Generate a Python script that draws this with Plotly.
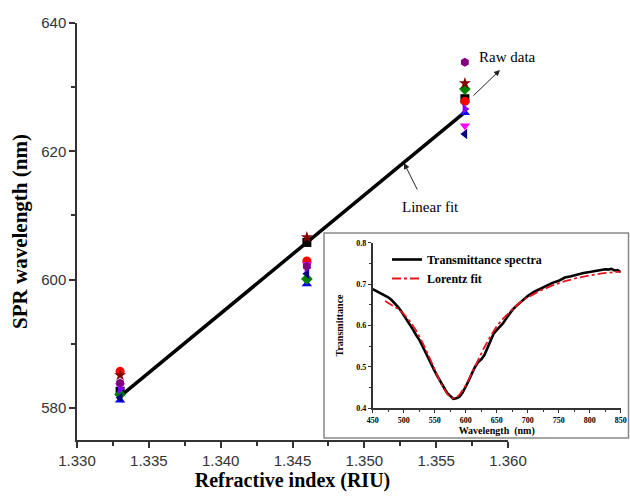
import plotly.graph_objects as go

# ---------------- main data ----------------
riu = [1.333, 1.346, 1.357]

series_names = ["S1", "S2", "S3", "S4", "S5", "S6", "S7", "S8", "S9"]
series_vals = [
    [582.6, 605.8, 628.2],   # black square
    [585.7, 602.9, 627.8],   # red circle
    [581.2, 599.3, 626.0],   # blue triangle-up
    [583.5, 602.4, 624.0],   # magenta triangle-down
    [582.1, 600.1, 629.7],   # olive diamond
    [581.6, 600.9, 622.7],   # navy triangle-left
    [583.0, 601.9, 626.6],   # violet triangle-right
    [583.9, 602.1, 633.9],   # purple hexagon
    [585.1, 606.6, 630.6],   # wine star
]
series_colors = ["#000000", "#ff0000", "#0000ff", "#ff00ff", "#008000",
                 "#000080", "#8000ff", "#800080", "#800000"]
series_symbols = ["square", "circle", "triangle-up", "triangle-down", "diamond",
                  "triangle-left", "triangle-right", "hexagon", "star"]

fit_x = [1.333, 1.357]
fit_y = [581.8, 626.1]

x_ticks = [1.330, 1.335, 1.340, 1.345, 1.350, 1.355, 1.360]
y_ticks = [580, 600, 620, 640]

# ---------------- inset data ----------------
wl = [450, 455, 460, 465, 470, 475, 480, 485, 490, 495, 500, 505, 510, 515, 520,
      525, 530, 535, 540, 545, 550, 555, 560, 565, 570, 575, 580, 585, 590, 595,
      600, 605, 610, 615, 620, 625, 630, 635, 640, 645, 650, 655, 660, 665, 670,
      675, 680, 685, 690, 695, 700, 710, 720, 730, 740, 750, 760, 770, 780, 790,
      800, 810, 820, 825, 830, 835, 840, 845, 850]
trans = [0.688, 0.684, 0.680, 0.676, 0.671, 0.668, 0.662, 0.655, 0.646, 0.637,
         0.626, 0.615, 0.603, 0.590, 0.577, 0.566, 0.551, 0.535, 0.520, 0.506,
         0.490, 0.476, 0.464, 0.449, 0.437, 0.430, 0.423, 0.424, 0.428, 0.438,
         0.452, 0.467, 0.484, 0.500, 0.511, 0.518, 0.528, 0.545, 0.563, 0.580,
         0.589, 0.597, 0.605, 0.616, 0.628, 0.637, 0.645, 0.652, 0.659, 0.665,
         0.671, 0.681, 0.689, 0.697, 0.703, 0.708, 0.716, 0.719, 0.723, 0.727,
         0.729, 0.732, 0.734, 0.736, 0.735, 0.737, 0.733, 0.734, 0.729]

fit_wl = [470, 480, 490, 500, 510, 520, 530, 540, 550, 560, 570, 575, 580, 585,
          590, 600, 610, 620, 630, 640, 650, 660, 670, 680, 690, 700, 720, 740,
          760, 780, 800, 820, 840, 850]
fit_tr = [0.659, 0.651, 0.641, 0.628, 0.610, 0.588, 0.560, 0.528, 0.493, 0.460,
          0.435, 0.427, 0.424, 0.426, 0.433, 0.455, 0.486, 0.517, 0.547, 0.574,
          0.598, 0.616, 0.632, 0.646, 0.658, 0.668, 0.684, 0.697, 0.707, 0.715,
          0.721, 0.726, 0.729, 0.730]

fig = go.Figure()

fig.add_trace(go.Scatter(x=fit_x, y=fit_y, mode="lines",
                         line=dict(color="black", width=3.5),
                         showlegend=False, xaxis="x", yaxis="y"))

for name, vals, col, sym in zip(series_names, series_vals, series_colors, series_symbols):
    fig.add_trace(go.Scatter(x=riu, y=vals, mode="markers", name=name,
                             marker=dict(color=col, symbol=sym, size=9,
                                         line=dict(width=0)),
                             showlegend=False, xaxis="x", yaxis="y"))

fig.add_trace(go.Scatter(x=wl, y=trans, mode="lines", name="Transmittance spectra",
                         line=dict(color="black", width=2.6),
                         xaxis="x2", yaxis="y2"))
fig.add_trace(go.Scatter(x=fit_wl, y=fit_tr, mode="lines", name="Lorentz fit",
                         line=dict(color="#e8141c", width=1.8, dash="dashdot"),
                         xaxis="x2", yaxis="y2"))

W, H = 630, 496
L, R, T, B = 77, 0, 23, 56
pw, ph = W - L - R, H - T - B


def px(xp):
    # page x pixel -> paper fraction
    return (xp - L) / pw


def py(yp):
    # page y pixel -> paper fraction
    return (H - B - yp) / ph


axis_line = dict(showline=True, linecolor="#333333", linewidth=1.5, showgrid=False,
                 zeroline=False, ticks="outside", tickcolor="#333333")

serif = "Liberation Serif, Times New Roman, serif"

fig.update_layout(
    width=W, height=H,
    margin=dict(l=L, r=R, t=T, b=B),
    paper_bgcolor="white", plot_bgcolor="white",
    xaxis=dict(**axis_line, range=[1.330, 1.360], domain=[0, px(508)],
               tickvals=x_ticks, tickformat=".3f", ticklen=6, tickwidth=1.5,
               minor=dict(dtick=0.0025, tick0=1.330, ticks="outside", ticklen=4,
                          tickcolor="#333333", tickwidth=1.5),
               tickfont=dict(family="Liberation Sans, Arial", size=15, color="#333333"),
               title=dict(text="Refractive index (RIU)", standoff=5,
                          font=dict(family=serif, size=20, color="black", weight="bold")),
               automargin=False, anchor="y"),
    yaxis=dict(**axis_line, range=[575, 640], domain=[0, 1],
               tickvals=y_ticks, ticklen=6, tickwidth=1.5,
               minor=dict(dtick=10, tick0=580, ticks="outside", ticklen=4,
                          tickcolor="#333333", tickwidth=1.5),
               tickfont=dict(family="Liberation Sans, Arial", size=15, color="#333333"),
               title=dict(text="SPR wavelength (nm)", standoff=8,
                          font=dict(family=serif, size=21, color="black", weight="bold")),
               automargin=False, anchor="x"),
    xaxis2=dict(**axis_line, range=[450, 850], domain=[px(372.7), px(620.7)],
                anchor="y2", dtick=50, tick0=450, ticklen=3, tickwidth=1,
                minor=dict(dtick=25, ticks="outside", ticklen=2, tickcolor="#333333"),
                tickfont=dict(family=serif, size=8, color="black", weight="bold"),
                title=dict(text="Wavelength  (nm)", standoff=3,
                           font=dict(family=serif, size=10, color="black", weight="bold")),
                automargin=False),
    yaxis2=dict(**axis_line, range=[0.4, 0.8], domain=[py(408.3), py(242.7)],
                anchor="x2", dtick=0.1, tick0=0.4, tickformat=".1f", ticklen=3,
                tickwidth=1,
                minor=dict(dtick=0.05, ticks="outside", ticklen=2, tickcolor="#333333"),
                tickfont=dict(family=serif, size=8, color="black", weight="bold"),
                title=dict(text="Transmittance", standoff=11,
                           font=dict(family=serif, size=10, color="black", weight="bold")),
                automargin=False),
    legend=dict(x=px(387), y=py(245), xanchor="left", yanchor="top",
                bgcolor="rgba(0,0,0,0)", borderwidth=0, tracegroupgap=0,
                font=dict(family=serif, size=12, color="black", weight="bold")),
    shapes=[dict(type="rect", xref="paper", yref="paper",
                 x0=px(324), x1=px(628.5), y0=py(438), y1=py(233),
                 line=dict(color="#888888", width=1.5), layer="below")],
    annotations=[
        dict(text="Raw data", xref="paper", yref="paper", x=px(507), y=py(57),
             xanchor="center", yanchor="middle", showarrow=False,
             font=dict(family=serif, size=15, color="black")),
        dict(text="", xref="paper", yref="paper", x=px(500), y=py(70),
             ax=-28, ay=27, showarrow=True, arrowhead=2, arrowsize=1.2,
             arrowwidth=1, arrowcolor="#222222"),
        dict(text="Linear fit", xref="paper", yref="paper", x=px(430), y=py(207),
             xanchor="center", yanchor="middle", showarrow=False,
             font=dict(family=serif, size=15, color="black")),
        dict(text="", xref="paper", yref="paper", x=px(404), y=py(163),
             ax=14, ay=28, showarrow=True, arrowhead=2, arrowsize=1.2,
             arrowwidth=1, arrowcolor="#222222"),
    ],
)

fig.write_html(
    "out.html",
    config={"displayModeBar": False},
    post_script="document.body.style.margin='0';"
                "document.documentElement.style.overflow='hidden';"
                "document.body.style.overflow='hidden';",
)
